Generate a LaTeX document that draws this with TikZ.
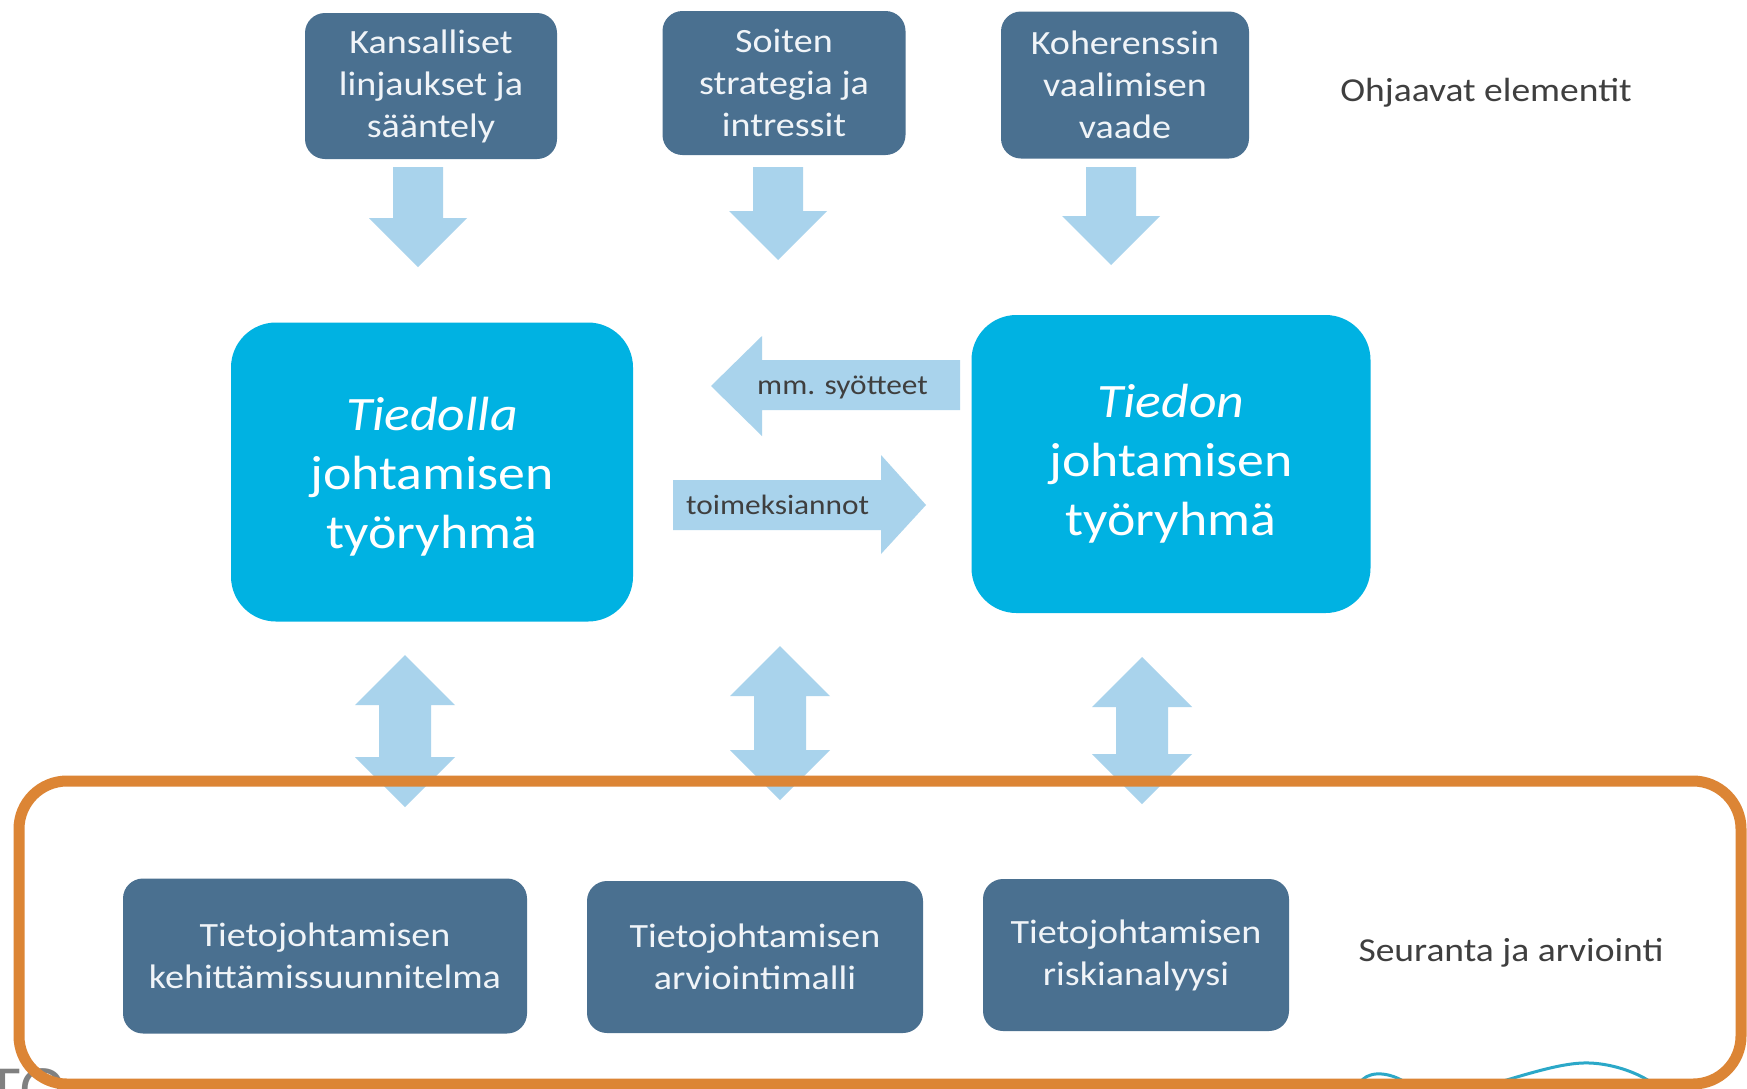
\documentclass[tikz,border=0pt]{standalone}
\usepackage{fontspec}
\setmainfont{Carlito}[FakeStretch=1.12]
\newfontfamily\grayfont{Liberation Sans}
\definecolor{boxdark}{HTML}{4A7090}
\definecolor{boxbright}{HTML}{00B2E2}
\definecolor{arrowblue}{HTML}{A9D3EC}
\definecolor{frameorange}{HTML}{DC8535}
\definecolor{labelgray}{HTML}{3F3F3F}
\definecolor{boxtext}{HTML}{F0F4F8}
\definecolor{wave}{HTML}{2BA8C8}
\newcommand\blockdown[4]{%
  \fill[arrowblue] (#1-25,#2) -- (#1+25,#2) -- (#1+25,#3) -- (#1+49,#3) -- (#1,#4) -- (#1-49,#3) -- (#1-25,#3) -- cycle;}
\newcommand\blockdouble[5]{%
  \fill[arrowblue] (#1,#2) -- (#1+50,#3) -- (#1+26,#3) -- (#1+26,#4) -- (#1+50,#4) -- (#1,#5) -- (#1-50,#4) -- (#1-26,#4) -- (#1-26,#3) -- (#1-50,#3) -- cycle;}
\begin{document}
\begin{tikzpicture}[x=1pt,y=-1pt,
  darkbox/.style={fill=boxdark, rounded corners=20pt, text=boxtext, align=center, inner sep=0pt,
    font=\fontsize{34}{42}\selectfont},
  bigbox/.style={fill=boxbright, rounded corners=45pt, text=white, align=center, inner sep=0pt,
    font=\fontsize{48}{59}\selectfont},
  bigtext/.style={text=white, align=center, inner sep=0pt, font=\fontsize{48}{59}\selectfont},
  sidelabel/.style={text=labelgray, inner sep=0pt, font=\fontsize{33.5}{40}\selectfont},
  arrowlabel/.style={text=labelgray, inner sep=0pt, font=\fontsize{28}{34}\selectfont}]
\useasboundingbox (0,0) rectangle (1747,1088);
\fill[white] (0,0) rectangle (1747,1088);

% top boxes
\node[darkbox, minimum width=252pt, minimum height=146pt] (k1) at (431,86) {Kansalliset\\linjaukset ja\\sääntely};
\node[darkbox, minimum width=243pt, minimum height=144pt] (k2) at (784,83) {Soiten\\strategia ja\\intressit};
\node[darkbox, minimum width=248pt, minimum height=147pt] (k3) at (1125,85) {Koherenssin\\vaalimisen\\vaade};
\node[sidelabel] (ohj) at (1486,93) {Ohjaavat elementit};

% down arrows
\blockdown{418}{167}{218}{267}
\blockdown{778}{167}{211}{260}
\blockdown{1111}{167}{216}{265}

% big boxes
\node[bigbox, minimum width=402pt, minimum height=299pt] (tl) at (432,472) {};
\node[bigtext] (tltext) at (432,477) {\textit{Tiedolla}\\johtamisen\\työryhmä};
\node[bigbox, minimum width=399pt, minimum height=298pt] (tr) at (1171,464) {\textit{Tiedon}\\johtamisen\\työryhmä};

% horizontal arrows
\fill[arrowblue] (960,360) -- (960,410) -- (762,410) -- (762,436) -- (711,386) -- (762,336) -- (762,360) -- cycle;
\fill[arrowblue] (673,480) -- (881,480) -- (881,455) -- (926,505) -- (881,554) -- (881,530) -- (673,530) -- cycle;
\node[arrowlabel, anchor=west] (syo) at (757,387) {mm. syötteet};
\node[arrowlabel, anchor=west] (toi) at (686,505) {toimeksiannot};

% double arrows
\blockdouble{405}{655}{705}{757}{807}
\blockdouble{780}{646}{696}{750}{800}
\blockdouble{1142}{657}{707}{754}{804}

% bottom boxes
\node[darkbox, minimum width=404pt, minimum height=155pt] (b1) at (325,956) {Tietojohtamisen\\kehittämissuunnitelma};
\node[darkbox, minimum width=336pt, minimum height=152pt] (b2) at (755,957) {Tietojohtamisen\\arviointimalli};
\node[darkbox, minimum width=306pt, minimum height=152pt] (b3) at (1136,955) {Tietojohtamisen\\riskianalyysi};
\node[sidelabel] (seu) at (1511,953) {Seuranta ja arviointi};

% cut-off fragments at the bottom edge
\begin{scope}
\clip (0,0) rectangle (1747,1088);
\node[anchor=north west, inner sep=0pt, text=gray] (frag) at (-16,1068) {\grayfont\fontsize{60}{60}\selectfont TO};
\draw[wave, line width=3pt] (1360,1083) .. controls (1366,1072) and (1385,1070) .. (1405,1082);
\draw[wave, line width=3pt] (1500,1082) .. controls (1540,1070) and (1568,1062) .. (1590,1063) .. controls (1615,1064) and (1640,1074) .. (1652,1083);
\end{scope}

% orange frame
\draw[frameorange, line width=11pt, rounded corners=48pt] (19,781) rectangle (1741,1084);
\end{tikzpicture}
\end{document}
